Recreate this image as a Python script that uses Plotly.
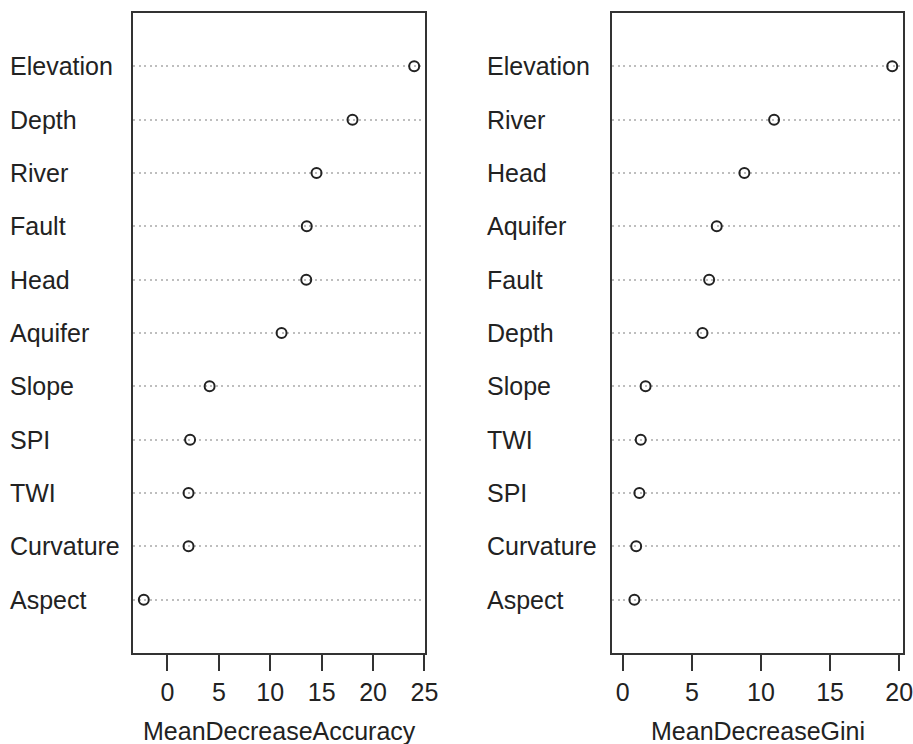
import plotly.graph_objects as go

# Variable importance from a random forest model (two measures)
acc_vars = ["Elevation", "Depth", "River", "Fault", "Head", "Aquifer",
            "Slope", "SPI", "TWI", "Curvature", "Aspect"]
acc_vals = [24.0, 18.0, 14.5, 13.55, 13.5, 11.1, 4.1, 2.2, 2.05, 2.05, -2.3]

gini_vars = ["Elevation", "River", "Head", "Aquifer", "Fault", "Depth",
             "Slope", "TWI", "SPI", "Curvature", "Aspect"]
gini_vals = [19.5, 10.95, 8.8, 6.8, 6.25, 5.77, 1.65, 1.3, 1.2, 0.97, 0.84]

acc_ticks = [0, 5, 10, 15, 20, 25]
gini_ticks = [0, 5, 10, 15, 20]

W, H = 913, 744
FONT = "Liberation Sans, Arial, sans-serif"
INK = "#222222"
BOX = "#333333"
GRID = "#bebebe"


def padded(lo, hi, frac=0.04):
    span = hi - lo
    return [lo - frac * span, hi + frac * span]


fig = go.Figure()

panels = [
    dict(vars=acc_vars, vals=acc_vals, xa="x", ya="y",
         xlim=padded(min(acc_vals), max(acc_vals)), ticks=acc_ticks,
         dom=[133 / W, 425 / W], label_x=8 / W, title="MeanDecreaseAccuracy"),
    dict(vars=gini_vars, vals=gini_vals, xa="x2", ya="y2",
         xlim=padded(0, max(gini_vals)), ticks=gini_ticks,
         dom=[612 / W, 903 / W], label_x=485 / W, title="MeanDecreaseGini"),
]

ydom = [1 - 653 / H, 1 - 13 / H]

for i, p in enumerate(panels):
    fig.add_trace(go.Scatter(
        x=p["vals"], y=p["vars"], mode="markers",
        xaxis=p["xa"], yaxis=p["ya"],
        marker=dict(symbol="circle-open", size=10, color=INK,
                    line=dict(width=2, color=INK)),
        showlegend=False, hoverinfo="x+y",
    ))
    sfx = "" if i == 0 else "2"
    order = list(reversed(p["vars"]))
    fig.update_layout(**{
        "xaxis" + sfx: dict(
            domain=p["dom"], range=p["xlim"], anchor=p["ya"],
            tickmode="array", tickvals=p["ticks"],
            ticks="outside", ticklen=16, tickwidth=2, tickcolor=BOX,
            showline=True, linecolor=BOX, linewidth=2, mirror=True,
            showgrid=False, zeroline=False, automargin=False,
            ticklabeloverflow="allow",
            tickfont=dict(family=FONT, size=25, color=INK),
        ),
        "yaxis" + sfx: dict(
            domain=ydom, anchor=p["xa"], type="category",
            categoryorder="array", categoryarray=order, range=[-1, len(order)],
            showticklabels=False, ticks="",
            showline=True, linecolor=BOX, linewidth=2, mirror=True,
            showgrid=True, gridcolor=GRID, griddash="2px,3.5px", gridwidth=1.5,
            zeroline=False, automargin=False,
        ),
    })
    for name in p["vars"]:
        fig.add_annotation(
            x=p["label_x"], xref="paper", y=name, yref=p["ya"],
            text=name, showarrow=False, xanchor="left", yanchor="middle",
            font=dict(family=FONT, size=25, color=INK),
        )
    fig.add_annotation(
        x=(p["dom"][0] + p["dom"][1]) / 2, xref="paper", xanchor="center",
        y=-3 / H, yref="paper", yanchor="bottom",
        text=p["title"], showarrow=False,
        font=dict(family=FONT, size=25, color=INK),
    )

fig.update_layout(
    width=W, height=H,
    margin=dict(l=0, r=0, t=0, b=0, autoexpand=False),
    paper_bgcolor="white", plot_bgcolor="white",
)

fig.write_html("out.html")
